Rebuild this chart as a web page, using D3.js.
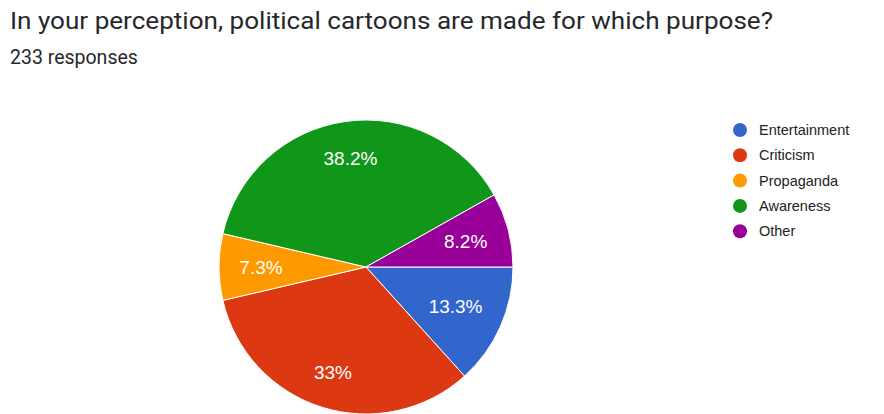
<!DOCTYPE html>
<html>
<head>
<meta charset="utf-8">
<script src="https://cdn.jsdelivr.net/npm/d3@7"></script>
<style>
  body { margin: 0; background: #fff; }
  svg { display: block; }
</style>
</head>
<body>
<div id="chart"></div>
<script>
// survey answers (233 responses)
const categories = ["Entertainment", "Criticism", "Propaganda", "Awareness", "Other"];
const counts = [31, 77, 17, 89, 19];
const pctLabels = ["13.3%", "33%", "7.3%", "38.2%", "8.2%"];
const colors = ["#3366cc", "#dc3912", "#ff9900", "#109618", "#990099"];

const width = 884, height = 414;
const svg = d3.select("#chart").append("svg")
  .attr("width", width)
  .attr("height", height);

// title
svg.append("text")
  .attr("x", 10)
  .attr("y", 29)
  .attr("textLength", 763)
  .attr("lengthAdjust", "spacingAndGlyphs")
  .style("font-family", "Roboto, sans-serif")
  .style("font-size", "23.5px")
  .style("fill", "#26282b")
  .text("In your perception, political cartoons are made for which purpose?");

svg.append("text")
  .attr("x", 10)
  .attr("y", 64)
  .style("font-family", "Roboto, sans-serif")
  .style("font-size", "19.5px")
  .style("fill", "#26282b")
  .text("233 responses");

// pie
const cx = 366, cy = 267, radius = 147;
const pie = d3.pie()
  .sort(null)
  .startAngle(Math.PI / 2)
  .endAngle(Math.PI / 2 + 2 * Math.PI);
const arcs = pie(counts);
const arc = d3.arc().innerRadius(0).outerRadius(radius);

const g = svg.append("g").attr("transform", `translate(${cx},${cy})`);

g.selectAll("path")
  .data(arcs)
  .join("path")
  .attr("d", arc)
  .attr("fill", (d, i) => colors[i])
  .attr("stroke", "#fff")
  .attr("stroke-width", 1);

// labels: push each label out along the mid angle until its outer corner
// reaches a fixed distance from the centre
const labelReach = radius * 0.865;
const labels = g.selectAll("text")
  .data(arcs)
  .join("text")
  .attr("text-anchor", "middle")
  .attr("dy", "0.35em")
  .style("font-family", "Arial, 'Liberation Sans', sans-serif")
  .style("font-size", "19px")
  .style("fill", "#fff")
  .text((d, i) => pctLabels[i]);

labels.each(function(d) {
  const bb = this.getBBox();
  const hw = bb.width / 2, hh = bb.height / 2;
  const a = (d.startAngle + d.endAngle) / 2;
  const ux = Math.sin(a), uy = -Math.cos(a);
  let r = 0;
  for (let t = 0; t < radius; t += 0.5) {
    const fx = t * ux + Math.sign(ux) * hw;
    const fy = t * uy + Math.sign(uy) * hh;
    if (Math.hypot(fx, fy) > labelReach) break;
    r = t;
  }
  d3.select(this).attr("x", r * ux).attr("y", r * uy);
});

// legend
const legend = svg.append("g").attr("transform", "translate(740,130)");
const row = legend.selectAll("g")
  .data(categories)
  .join("g")
  .attr("transform", (d, i) => `translate(0,${i * 25.3})`);

row.append("circle")
  .attr("r", 7)
  .attr("fill", (d, i) => colors[i]);

row.append("text")
  .attr("x", 19)
  .attr("dy", "0.35em")
  .style("font-family", "Arial, 'Liberation Sans', sans-serif")
  .style("font-size", "14.5px")
  .style("fill", "#222")
  .text(d => d);
</script>
</body>
</html>
